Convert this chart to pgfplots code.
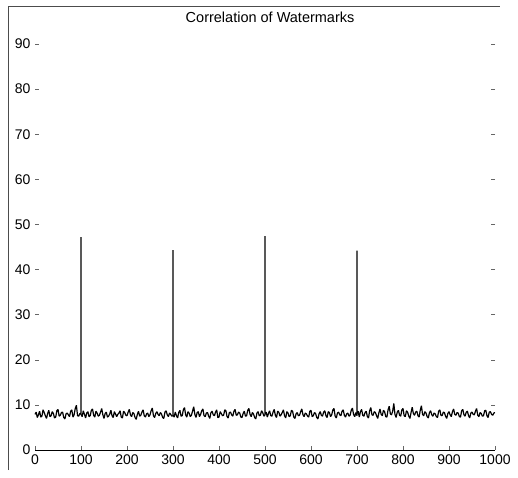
\documentclass[border=0pt]{standalone}
\usepackage{fontspec}
\setmainfont{Liberation Sans}
\usepackage{pgfplots}
\pgfplotsset{compat=1.18}
\begin{document}
\begin{tikzpicture}[x=1pt,y=1pt]
  \begin{axis}[
      at={(0,0)}, anchor=origin,
      scale only axis,
      width=460pt, height=406pt,
      xmin=0, xmax=1000,
      ymin=0, ymax=90,
      xtick={0,100,...,1000},
      ytick={0,10,...,90},
      xtick pos=bottom,
      ytick pos=both,
      tick align=inside,
      major tick length=4pt,
      tick style={black!60, line width=0.5pt},
      axis line style={draw=none},
      tick label style={font=\fontsize{14}{16}\selectfont},
      xticklabel style={yshift=-1pt},
      yticklabel style={xshift=-1pt},
      /pgf/number format/assume math mode=true,
      /pgf/number format/1000 sep={},
      clip=false,
    ]
    % x axis line
    \draw[black, line width=0.8pt] (axis cs:0,0) -- (axis cs:1000,0);
    % correlation output
    \addplot[black, line width=1.2pt, line join=bevel, mark=none] coordinates {
      (0,7.9)(2.5,8.4)(5,7.2)(7.5,7.8)(10,8.6)(12.5,7.3)(15,7.5)(17.5,8.9)(20,8.3)(22.5,7.6)
      (25,7.0)(27.5,8.1)(30,8.8)(32.5,7.4)(35,7.6)(37.5,8.5)(40,8.1)(42.5,7.1)(45,7.3)(47.5,8.7)
      (50,9.0)(52.5,7.5)(55,7.7)(57.5,8.3)(60,8.4)(62.5,7.2)(65,6.9)(67.5,8.0)(70,8.2)(72.5,7.8)
      (75,7.4)(77.5,8.6)(80,8.9)(82.5,7.3)(85,7.8)(87.5,9.2)(90,9.9)(92.5,7.6)(95,7.5)(97.5,8.1)
      (100,8.0)(100,47.2)(100,7.9)(102.5,7.4)
      (105,8.7)(107.5,7.9)(110,7.1)(112.5,8.2)(115,8.5)(117.5,7.4)(120,7.6)(122.5,8.8)(125,9.1)(127.5,7.7)
      (130,7.3)(132.5,8.6)(135,8.2)(137.5,7.5)(140,7.7)(142.5,8.4)(145,9.2)(147.5,7.8)(150,7.0)(152.5,8.1)
      (155,8.4)(157.5,7.3)(160,7.5)(162.5,8.0)(165,8.8)(167.5,7.6)(170,7.2)(172.5,8.5)(175,8.0)(177.5,7.4)
      (180,7.9)(182.5,8.2)(185,8.7)(187.5,7.3)(190,7.1)(192.5,8.6)(195,8.3)(197.5,7.7)(200,7.6)(202.5,8.4)
      (205,9.0)(207.5,7.8)(210,7.4)(212.5,8.3)(215,8.1)(217.5,7.2)(220,6.8)(222.5,7.9)(225,8.6)(227.5,7.5)
      (230,7.7)(232.5,8.4)(235,8.9)(237.5,7.6)(240,7.3)(242.5,8.0)(245,8.2)(247.5,7.4)(250,7.8)(252.5,8.7)
      (255,9.3)(257.5,7.6)(260,7.2)(262.5,8.1)(265,8.5)(267.5,7.9)(270,7.6)(272.5,8.3)(275,8.0)(277.5,7.2)
      (280,7.0)(282.5,8.4)(285,8.7)(287.5,7.8)(290,7.4)(292.5,8.2)(295,7.9)(297.5,7.5)
      (300,7.6)(300,44.3)(300,7.8)(302.5,7.3)
      (305,8.4)(307.5,7.6)(310,7.1)(312.5,8.3)(315,8.8)(317.5,7.5)(320,7.6)(322.5,8.9)(325,9.4)(327.5,7.8)
      (330,7.3)(332.5,8.5)(335,8.2)(337.5,7.4)(340,7.7)(342.5,8.6)(345,9.6)(347.5,7.9)(350,7.2)(352.5,8.3)
      (355,8.5)(357.5,7.4)(360,7.9)(362.5,8.7)(365,9.1)(367.5,7.6)(370,7.4)(372.5,8.2)(375,8.3)(377.5,7.5)
      (380,7.0)(382.5,8.3)(385,8.6)(387.5,7.8)(390,7.6)(392.5,8.4)(395,8.9)(397.5,7.2)(400,7.3)(402.5,8.5)
      (405,8.1)(407.5,7.6)(410,7.7)(412.5,8.9)(415,8.7)(417.5,7.4)(420,7.1)(422.5,8.3)(425,8.4)(427.5,7.8)
      (430,7.5)(432.5,8.6)(435,9.0)(437.5,7.7)(440,7.8)(442.5,8.4)(445,8.2)(447.5,7.3)(450,7.2)(452.5,8.1)
      (455,8.6)(457.5,7.5)(460,7.6)(462.5,8.8)(465,9.2)(467.5,7.9)(470,7.4)(472.5,8.3)(475,8.0)(477.5,7.2)
      (480,6.9)(482.5,8.2)(485,8.5)(487.5,7.6)(490,7.7)(492.5,8.7)(495,8.3)(497.5,7.5)
      (500,7.8)(500,47.4)(500,8.0)(502.5,8.4)
      (505,7.3)(507.5,8.1)(510,8.7)(512.5,7.6)(515,7.5)(517.5,8.4)(520,9.0)(522.5,7.7)(525,7.2)(527.5,8.6)
      (530,8.4)(532.5,7.5)(535,7.8)(537.5,8.3)(540,8.9)(542.5,7.6)(545,7.1)(547.5,8.5)(550,8.2)(552.5,7.4)
      (555,7.6)(557.5,8.8)(560,8.6)(562.5,7.3)(565,7.0)(567.5,8.0)(570,8.3)(572.5,7.6)(575,7.7)(577.5,8.5)
      (580,9.1)(582.5,7.8)(585,7.4)(587.5,8.2)(590,8.0)(592.5,7.5)(595,7.3)(597.5,8.6)(600,8.8)(602.5,7.4)
      (605,7.6)(607.5,8.3)(610,8.1)(612.5,7.2)(615,6.9)(617.5,8.0)(620,8.5)(622.5,7.7)(625,7.5)(627.5,8.4)
      (630,8.7)(632.5,7.6)(635,7.2)(637.5,8.5)(640,8.3)(642.5,7.4)(645,7.8)(647.5,8.9)(650,9.2)(652.5,7.5)
      (655,7.1)(657.5,8.2)(660,8.4)(662.5,7.8)(665,7.6)(667.5,8.6)(670,8.9)(672.5,7.7)(675,7.3)(677.5,8.0)
      (680,8.2)(682.5,7.5)(685,7.7)(687.5,8.8)(690,9.3)(692.5,7.9)(695,7.4)(697.5,8.3)
      (700,7.6)(700,44.2)(700,8.1)(702.5,8.6)
      (705,7.3)(707.5,8.5)(710,9.0)(712.5,7.7)(715,7.5)(717.5,8.3)(720,8.6)(722.5,7.4)(725,7.1)(727.5,8.7)
      (730,9.4)(732.5,7.8)(735,7.7)(737.5,8.5)(740,8.3)(742.5,7.6)(745,7.0)(747.5,8.2)(750,9.1)(752.5,7.9)
      (755,7.6)(757.5,8.8)(760,8.5)(762.5,7.4)(765,7.3)(767.5,8.9)(770,9.7)(772.5,8.0)(775,7.8)(777.5,8.6)
      (780,10.3)(782.5,7.9)(785,7.2)(787.5,8.4)(790,8.8)(792.5,7.7)(795,7.5)(797.5,8.9)(800,9.2)(802.5,7.6)
      (805,7.4)(807.5,8.7)(810,8.4)(812.5,7.5)(815,7.0)(817.5,8.3)(820,9.5)(822.5,8.1)(825,7.7)(827.5,8.4)
      (830,8.6)(832.5,7.6)(835,7.3)(837.5,8.8)(840,9.8)(842.5,7.9)(845,7.6)(847.5,8.5)(850,8.2)(852.5,7.4)
      (855,7.1)(857.5,8.3)(860,8.7)(862.5,7.8)(865,7.5)(867.5,8.2)(870,8.0)(872.5,7.4)(875,7.2)(877.5,8.6)
      (880,8.9)(882.5,7.7)(885,7.6)(887.5,8.4)(890,8.3)(892.5,7.5)(895,7.0)(897.5,8.1)(900,8.5)(902.5,7.8)
      (905,7.4)(907.5,8.5)(910,9.1)(912.5,7.9)(915,7.7)(917.5,8.3)(920,8.2)(922.5,7.4)(925,7.3)(927.5,8.7)
      (930,9.0)(932.5,7.8)(935,7.5)(937.5,8.4)(940,8.6)(942.5,7.6)(945,7.1)(947.5,8.2)(950,8.4)(952.5,7.9)
      (955,7.8)(957.5,8.6)(960,9.2)(962.5,7.7)(965,7.4)(967.5,8.3)(970,8.1)(972.5,7.5)(975,7.6)(977.5,8.7)
      (980,8.8)(982.5,7.6)(985,7.2)(987.5,8.4)(990,8.5)(992.5,7.9)(995,7.7)(997.5,8.2)(1000,8.3)
    };
    % title
    \node[font=\fontsize{14.5}{16}\selectfont] at (axis cs:511,96.0) {Correlation of Watermarks};
  \end{axis}
  % frame of the scanned figure
  \draw[black!70, line width=0.8pt] (-27,-20) -- (-27,444) -- (465,444);
  \pgfresetboundingbox
  \path[use as bounding box] (-35,-27) rectangle (483,450);
\end{tikzpicture}
\end{document}
